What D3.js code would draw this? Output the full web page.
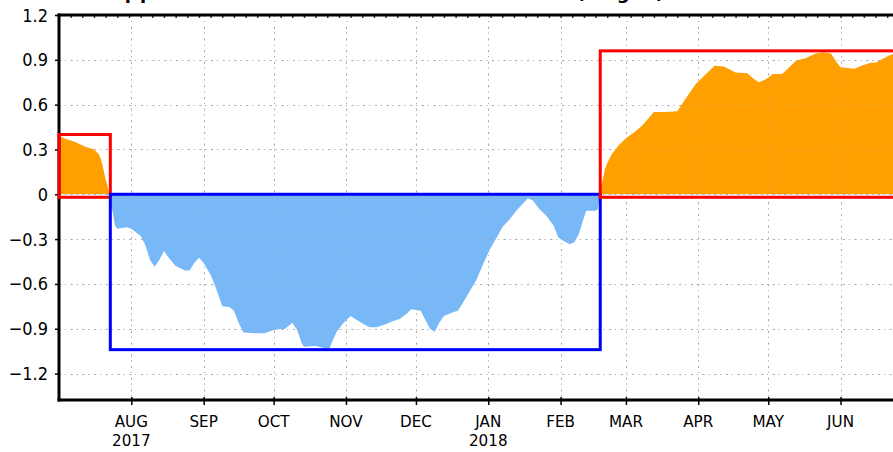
<!DOCTYPE html>
<html><head><meta charset="utf-8">
<script src="https://cdn.jsdelivr.net/npm/d3@7"></script>
<style>
html,body{margin:0;padding:0;background:#fff;}
svg{display:block;}
text{font-family:"DejaVu Sans",sans-serif;fill:#000;}
</style></head>
<body>
<svg id="chart" width="893" height="452"></svg>
<script>
// ---- data ----
const dates = ["2017-07-01","2017-07-04","2017-07-08","2017-07-12","2017-07-16","2017-07-18","2017-07-19","2017-07-20","2017-07-21","2017-07-22","2017-07-23","2017-07-24","2017-07-25","2017-07-26","2017-07-30","2017-08-01","2017-08-05","2017-08-07","2017-08-09","2017-08-11","2017-08-13","2017-08-15","2017-08-17","2017-08-20","2017-08-24","2017-08-26","2017-08-28","2017-08-30","2017-09-01","2017-09-04","2017-09-06","2017-09-09","2017-09-12","2017-09-14","2017-09-16","2017-09-18","2017-09-23","2017-09-27","2017-10-02","2017-10-06","2017-10-09","2017-10-11","2017-10-13","2017-10-14","2017-10-19","2017-10-23","2017-10-25","2017-10-26","2017-10-28","2017-10-31","2017-11-03","2017-11-07","2017-11-11","2017-11-14","2017-11-18","2017-11-21","2017-11-24","2017-11-27","2017-11-29","2017-12-03","2017-12-05","2017-12-07","2017-12-09","2017-12-11","2017-12-13","2017-12-16","2017-12-19","2017-12-21","2017-12-24","2017-12-27","2017-12-30","2018-01-02","2018-01-05","2018-01-07","2018-01-10","2018-01-13","2018-01-16","2018-01-18","2018-01-20","2018-01-23","2018-01-26","2018-01-29","2018-01-31","2018-02-02","2018-02-05","2018-02-07","2018-02-09","2018-02-11","2018-02-12","2018-02-16","2018-02-17","2018-02-18","2018-02-19","2018-02-20","2018-02-21","2018-02-23","2018-02-26","2018-03-01","2018-03-05","2018-03-08","2018-03-13","2018-03-18","2018-03-23","2018-03-27","2018-03-31","2018-04-05","2018-04-08","2018-04-12","2018-04-17","2018-04-22","2018-04-25","2018-04-27","2018-04-30","2018-05-03","2018-05-07","2018-05-10","2018-05-13","2018-05-17","2018-05-21","2018-05-25","2018-05-28","2018-05-30","2018-06-01","2018-06-04","2018-06-07","2018-06-10","2018-06-14","2018-06-16","2018-06-19","2018-06-22","2018-06-24"];
const values = [0.39,0.37,0.35,0.32,0.30,0.27,0.235,0.17,0.10,0.04,-0.04,-0.12,-0.21,-0.23,-0.22,-0.23,-0.28,-0.34,-0.44,-0.485,-0.44,-0.38,-0.425,-0.48,-0.51,-0.51,-0.46,-0.425,-0.46,-0.54,-0.615,-0.75,-0.755,-0.78,-0.86,-0.925,-0.93,-0.93,-0.905,-0.90,-0.86,-0.905,-0.995,-1.02,-1.015,-1.03,-1.03,-0.99,-0.92,-0.86,-0.815,-0.855,-0.89,-0.89,-0.87,-0.85,-0.835,-0.80,-0.77,-0.78,-0.84,-0.90,-0.92,-0.86,-0.815,-0.795,-0.78,-0.73,-0.65,-0.57,-0.46,-0.36,-0.28,-0.22,-0.17,-0.11,-0.06,-0.027,-0.04,-0.10,-0.145,-0.21,-0.29,-0.31,-0.335,-0.32,-0.26,-0.155,-0.11,-0.11,-0.10,0.03,0.09,0.17,0.21,0.27,0.33,0.375,0.42,0.46,0.55,0.55,0.555,0.65,0.74,0.815,0.86,0.855,0.815,0.81,0.77,0.75,0.77,0.805,0.805,0.85,0.895,0.91,0.94,0.95,0.94,0.89,0.85,0.845,0.84,0.86,0.88,0.88,0.905,0.93,0.94];

const yTicks = [1.2,0.9,0.6,0.3,0,-0.3,-0.6,-0.9,-1.2];
const yTickLabels = ["1.2","0.9","0.6","0.3","0","\u22120.3","\u22120.6","\u22120.9","\u22121.2"];
const monthTicks = ["2017-08-01","2017-09-01","2017-10-01","2017-11-01","2017-12-01","2018-01-01","2018-02-01","2018-03-01","2018-04-01","2018-05-01","2018-06-01"];
const monthLabels = ["AUG","SEP","OCT","NOV","DEC","JAN","FEB","MAR","APR","MAY","JUN"];
const yearLabels = ["2017","","","","","2018","","","","",""];

// highlight boxes
const boxStart = ["2017-07-01","2017-07-23","2018-02-18"];
const boxEnd   = ["2017-07-23","2018-02-18","2018-07-10"];
const boxLow   = [-0.02,-1.04,-0.02];
const boxHigh  = [0.40,0.0,0.96];
const boxColor = ["#ff0000","#0000ff","#ff0000"];

const titleText = "Upper Ocean Heat Content Anomalies (deg C)";

// ---- layout ----
const parse = d3.utcParse("%Y-%m-%d");
const L = 59, T = 15, B = 400, R = 893;
const x = d3.scaleUtc().domain([parse("2017-07-01"), parse("2018-06-24")]).range([L, L + 358*2.333]);
const y = d3.scaleLinear().domain([-1.377, 1.2]).range([B, T]);

const svg = d3.select("#chart");
const data = dates.map((d,i)=>({date:parse(d), v:values[i]}));

// clip paths
const defs = svg.append("defs");
defs.append("clipPath").attr("id","plot").append("rect").attr("x",L).attr("y",T).attr("width",R-L+5).attr("height",B-T);
defs.append("clipPath").attr("id","pos").append("rect").attr("x",L).attr("y",T).attr("width",R-L+5).attr("height",y(0)-T);
defs.append("clipPath").attr("id","neg").append("rect").attr("x",L).attr("y",y(0)).attr("width",R-L+5).attr("height",B-y(0));

const dash = "2,4,1,4.7";
function drawGrid(g){
  g.selectAll("line.h").data(yTicks.filter(v=>v<1.2)).join("line").attr("class","h")
    .attr("x1",L).attr("x2",R).attr("y1",d=>Math.round(y(d))+0.5).attr("y2",d=>Math.round(y(d))+0.5);
  g.selectAll("line.v").data(monthTicks).join("line").attr("class","v")
    .attr("x1",d=>Math.round(x(parse(d)))+0.5).attr("x2",d=>Math.round(x(parse(d)))+0.5).attr("y1",T).attr("y2",B);
}
// grid
drawGrid(svg.append("g").attr("stroke","#a8a8a8").attr("stroke-width",1).attr("stroke-dasharray",dash));

// areas
const area = d3.area().x(d=>x(d.date)).y0(y(0)).y1(d=>y(d.v)).curve(d3.curveLinear);
const ga = svg.append("g").attr("clip-path","url(#plot)");
ga.append("path").datum(data).attr("d",area).attr("fill","#ffa000").attr("clip-path","url(#pos)");
ga.append("path").datum(data).attr("d",area).attr("fill","#78b8f7").attr("clip-path","url(#neg)");

// grid showing through the fill
drawGrid(svg.append("g").attr("stroke","#a8a8a8").attr("stroke-width",1).attr("stroke-dasharray",dash).attr("opacity",0.5));

// axes
const xAxisB = d3.axisBottom(x).tickValues(monthTicks.map(parse)).tickSize(5).tickFormat("");
svg.append("g").attr("transform",`translate(0,${B})`).call(xAxisB)
  .call(g=>{g.select(".domain").remove(); g.selectAll(".tick line").attr("stroke","#000").attr("stroke-width",1.5).attr("y1",-3);});
svg.append("line").attr("x1",L-1.5).attr("x2",R).attr("y1",B).attr("y2",B).attr("stroke","#000").attr("stroke-width",3);

// top axis with minor ticks every 5 days
const xAxisT = d3.axisBottom(x).tickValues(d3.range(0,360,5).map(k=>d3.utcDay.offset(parse("2017-07-01"),k))).tickSize(3).tickFormat("");
svg.append("g").attr("transform",`translate(0,${T})`).call(xAxisT)
  .call(g=>{g.select(".domain").remove(); g.selectAll(".tick line").attr("stroke","#333").attr("stroke-width",1.5);});
svg.append("line").attr("x1",L-1.5).attr("x2",R).attr("y1",T).attr("y2",T).attr("stroke","#000").attr("stroke-width",3);

const yAxis = d3.axisLeft(y).tickValues(yTicks).tickSize(4).tickFormat("");
svg.append("g").attr("transform",`translate(${L},0)`).call(yAxis)
  .call(g=>{g.select(".domain").remove(); g.selectAll(".tick line").attr("stroke","#000").attr("stroke-width",1.5);});
svg.append("line").attr("x1",L).attr("x2",L).attr("y1",T-1.5).attr("y2",B+1.5).attr("stroke","#000").attr("stroke-width",3);

// y labels
svg.append("g").selectAll("text").data(yTicks).join("text")
  .attr("transform",(d,i)=>`translate(48,${y(d)+6.5}) scale(0.9,1)`)
  .attr("text-anchor","end").attr("font-size",18).text((d,i)=>yTickLabels[i]);

// x labels
const xl = svg.append("g");
xl.selectAll("text.m").data(monthTicks).join("text").attr("class","m")
  .attr("transform",d=>`translate(${x(parse(d))},427) scale(0.95,1)`)
  .attr("text-anchor","middle").attr("font-size",16).text((d,i)=>monthLabels[i]);
xl.selectAll("text.yr").data(monthTicks.filter((d,i)=>yearLabels[i])).join("text").attr("class","yr")
  .attr("transform",d=>`translate(${x(parse(d))},446) scale(0.95,1)`)
  .attr("text-anchor","middle").attr("font-size",16).text(d=>yearLabels[monthTicks.indexOf(d)]);

// boxes
svg.append("g").attr("clip-path","url(#plot)").selectAll("rect").data(boxStart).join("rect")
  .attr("x",(d,i)=>x(parse(d)))
  .attr("y",(d,i)=>y(boxHigh[i]))
  .attr("width",(d,i)=>x(parse(boxEnd[i]))-x(parse(d)))
  .attr("height",(d,i)=>y(boxLow[i])-y(boxHigh[i]))
  .attr("fill","none").attr("stroke",(d,i)=>boxColor[i]).attr("stroke-width",3);
svg.append("line").attr("x1",L).attr("x2",L).attr("y1",y(boxHigh[0])-1.5).attr("y2",y(boxLow[0])+1.5)
  .attr("stroke",boxColor[0]).attr("stroke-width",3);

// title (mostly cut off at the top in the reference)
svg.append("text").attr("x",108).attr("y",-1).attr("font-size",18).attr("font-weight","bold")
  .attr("textLength",556).attr("lengthAdjust","spacing").text(titleText);
</script>
</body></html>
